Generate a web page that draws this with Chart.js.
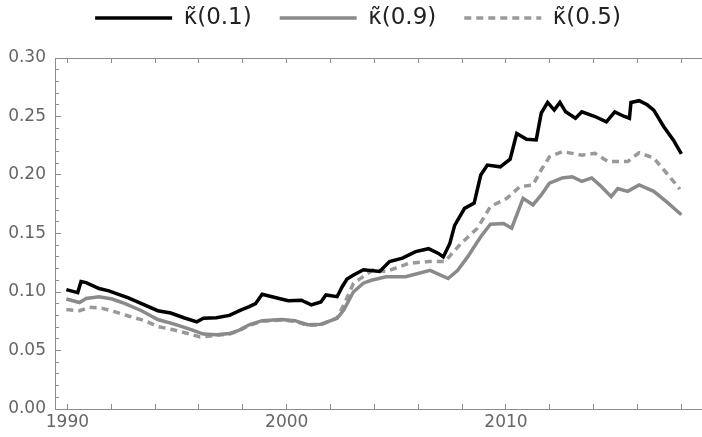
<!DOCTYPE html>
<html>
<head>
<meta charset="utf-8">
<script src="https://cdn.jsdelivr.net/npm/chart.js@4.4.1/dist/chart.umd.min.js"></script>
<style>
  html, body { margin: 0; padding: 0; background: #fff; }
  #wrap { width: 702px; height: 437px; overflow: hidden; }
</style>
</head>
<body>
<div id="wrap"><canvas id="kappa_chart" width="702" height="437"></canvas></div>
<script>
// series labels
const seriesNames = ["κ̃(0.1)", "κ̃(0.9)", "κ̃(0.5)"];

// kappa(0.1) - black
const k01Years = [1989.95, 1990.47, 1990.62, 1990.85, 1991.44, 1991.89, 1992.33, 1992.78, 1993.38, 1994.12,
  1994.71, 1995.31, 1995.9, 1996.2, 1996.79, 1997.39, 1997.9, 1998.29, 1998.58, 1998.88,
  1999.33, 2000.07, 2000.67, 2001.12, 2001.56, 2001.79, 2002.3, 2002.53, 2002.75, 2003.05,
  2003.5, 2004.24, 2004.69, 2005.28, 2005.88, 2006.47, 2006.92, 2007.14, 2007.44, 2007.66,
  2008.11, 2008.55, 2008.85, 2009.15, 2009.74, 2010.19, 2010.49, 2010.94, 2011.38, 2011.61,
  2011.9, 2012.2, 2012.46, 2012.72, 2013.17, 2013.46, 2014.06, 2014.58, 2014.96, 2015.4,
  2015.63, 2015.7, 2016.07, 2016.44, 2016.74, 2017.19, 2017.63, 2018.0];
const k01Vals = [0.102, 0.0995, 0.109, 0.108, 0.103, 0.101, 0.098, 0.095, 0.090, 0.084,
  0.082, 0.078, 0.0745, 0.0775, 0.078, 0.080, 0.0845, 0.0875, 0.090, 0.098,
  0.096, 0.0925, 0.093, 0.089, 0.0915, 0.0975, 0.096, 0.1045, 0.111, 0.1145,
  0.119, 0.1175, 0.126, 0.129, 0.1345, 0.137, 0.133, 0.130, 0.1415, 0.157,
  0.1715, 0.176, 0.200, 0.2085, 0.207, 0.2135, 0.2355, 0.2305, 0.230, 0.253,
  0.262, 0.2555, 0.262, 0.254, 0.2485, 0.254, 0.250, 0.2455, 0.254, 0.250,
  0.2485, 0.262, 0.2635, 0.260, 0.2555, 0.2415, 0.230, 0.218];

// kappa(0.9) - gray solid
const k09Years = [1989.95, 1990.55, 1990.85, 1991.44, 1992.04, 1992.63, 1993.38, 1994.12, 1994.87, 1995.61,
  1996.2, 1996.79, 1997.39, 1997.84, 1998.29, 1998.88, 1999.78, 2000.37, 2000.96, 2001.56,
  2002.3, 2002.6, 2003.04, 2003.49, 2003.86, 2004.53, 2005.42, 2006.54, 2007.36, 2007.8,
  2008.25, 2008.84, 2009.29, 2009.89, 2010.26, 2010.78, 2011.23, 2011.61, 2011.98, 2012.57,
  2013.02, 2013.46, 2013.91, 2014.36, 2014.8, 2015.1, 2015.55, 2016.07, 2016.74, 2017.33, 2018.0];
const k09Vals = [0.094, 0.091, 0.0945, 0.096, 0.094, 0.090, 0.084, 0.0765, 0.0725, 0.068,
  0.064, 0.0635, 0.0645, 0.0675, 0.072, 0.0755, 0.0765, 0.0755, 0.072, 0.0725,
  0.0775, 0.0845, 0.100, 0.1075, 0.110, 0.113, 0.113, 0.1185, 0.1115, 0.1185,
  0.130, 0.147, 0.158, 0.1585, 0.1545, 0.180, 0.1745, 0.183, 0.193, 0.1975,
  0.1985, 0.1945, 0.1975, 0.190, 0.1815, 0.1885, 0.186, 0.1915, 0.186, 0.177, 0.166];

// kappa(0.5) - gray dashed (runs under the solid gray line 1997-2002)
const k05Years = [1989.95, 1990.55, 1991.0, 1991.6, 1992.18, 1992.78, 1993.53, 1994.12, 1994.87, 1995.61,
  1996.05, 1996.79, 1997.39, 1997.84, 1998.29, 1998.88, 1999.78, 2000.37, 2000.96, 2001.56,
  2002.3, 2002.6, 2003.05, 2003.94, 2004.53, 2005.58, 2006.47, 2007.21, 2007.95, 2008.7,
  2009.29, 2010.04, 2010.63, 2011.23, 2011.61, 2011.98, 2012.57, 2013.46, 2014.06, 2014.65,
  2015.55, 2016.07, 2016.74, 2017.33, 2017.93];
const k05Vals = [0.085, 0.084, 0.087, 0.086, 0.083, 0.0795, 0.0755, 0.0705, 0.0675, 0.064,
  0.0615, 0.063, 0.064, 0.067, 0.0715, 0.075, 0.076, 0.075, 0.0715, 0.072,
  0.078, 0.089, 0.1075, 0.119, 0.1175, 0.1245, 0.126, 0.126, 0.1415, 0.1545,
  0.173, 0.180, 0.190, 0.1915, 0.2045, 0.2155, 0.220, 0.217, 0.2185, 0.2115,
  0.2115, 0.219, 0.2145, 0.2015, 0.188];

// axis ticks
const yearTicks = [1990, 1992, 1994, 1996, 1998, 2000, 2002, 2004, 2006, 2008, 2010, 2012, 2014, 2016, 2018];
const yearLabels = [1990, 2000, 2010];
const valueTicks = [0, 0.05, 0.10, 0.15, 0.20, 0.25, 0.30];

function toPoints(xs, ys) {
    let arr = new Array();
    for (let i = 0; i < xs.length; i++) {
        arr.push({x: xs[i], y: ys[i]});
    }
    return arr;
}

const frameColor = "#8c8c8c";
const tickFont = {family: "DejaVu Sans", size: 17};
const xMin = 1989.433;
const xMax = 2018.94;

new Chart("kappa_chart", {
    type: "line",
    data: {
        datasets: [{
            label: seriesNames[0],
            data: toPoints(k01Years, k01Vals),
            borderColor: "#000000",
            borderWidth: 3.5
        },
        {
            label: seriesNames[1],
            data: toPoints(k09Years, k09Vals),
            borderColor: "#8a8a8a",
            borderWidth: 3.5
        },
        {
            label: seriesNames[2],
            data: toPoints(k05Years, k05Vals),
            borderColor: "#999999",
            borderWidth: 3.5,
            borderDash: [7, 5]
        }]
    },
    options: {
        responsive: false,
        animation: false,
        devicePixelRatio: 1,
        elements: {point: {radius: 0}, line: {tension: 0}},
        // negative right padding pushes the legend centre a bit right, as in the original
        layout: {padding: {left: 0, right: -14, top: -21.5, bottom: 0}},
        plugins: {
            tooltip: {enabled: false},
            legend: {
                display: true,
                position: "top",
                labels: {
                    usePointStyle: true,
                    pointStyle: "line",
                    pointStyleWidth: 77,
                    boxWidth: 77,
                    padding: 28,
                    color: "#222222",
                    font: {family: "DejaVu Sans", size: 23},
                    generateLabels: function (chart) {
                        // point style labels lose the dash, so put it back from the dataset
                        let items = Chart.defaults.plugins.legend.labels.generateLabels(chart);
                        items.forEach(function (item) {
                            let ds = chart.data.datasets[item.datasetIndex];
                            item.lineDash = ds.borderDash || [];
                            item.lineWidth = ds.borderWidth;
                            item.strokeStyle = ds.borderColor;
                        });
                        return items;
                    }
                }
            }
        },
        scales: {
            x: {
                type: "linear",
                position: "bottom",
                min: xMin,
                max: xMax,
                afterBuildTicks: function (scale) {
                    scale.ticks = yearTicks.map(v => ({value: v}));
                },
                afterFit: function (scale) { scale.height = 28; },
                ticks: {
                    autoSkip: false,
                    maxRotation: 0,
                    padding: 8,
                    color: "#666666",
                    font: tickFont,
                    callback: function (v) { return yearLabels.includes(v) ? String(v) : ""; }
                },
                grid: {drawOnChartArea: false, tickLength: -5, color: frameColor},
                border: {display: true, color: frameColor, width: 1}
            },
            xTop: {
                type: "linear",
                position: "top",
                min: xMin,
                max: xMax,
                afterBuildTicks: function (scale) {
                    scale.ticks = yearTicks.map(v => ({value: v}));
                },
                afterFit: function (scale) { scale.height = 18.5; },
                ticks: {display: false},
                grid: {drawOnChartArea: false, tickLength: -5, color: frameColor},
                border: {display: true, color: frameColor, width: 1}
            },
            y: {
                position: "left",
                weight: 1,
                min: 0,
                max: 0.30,
                afterBuildTicks: function (scale) {
                    scale.ticks = valueTicks.map(v => ({value: v}));
                },
                afterFit: function (scale) { scale.width = 55; },
                ticks: {
                    padding: 15,
                    color: "#666666",
                    font: tickFont,
                    callback: function (v) { return v.toFixed(2); }
                },
                grid: {drawOnChartArea: false, tickLength: -6, color: frameColor},
                border: {display: true, color: frameColor, width: 1}
            },
            yMinor: {
                position: "left",
                weight: 0,
                min: 0,
                max: 0.30,
                ticks: {display: false, stepSize: 0.01},
                afterFit: function (scale) { scale.width = 0; },
                grid: {drawOnChartArea: false, tickLength: -4, color: frameColor},
                border: {display: false}
            }
        }
    }
});
</script>
</body>
</html>
